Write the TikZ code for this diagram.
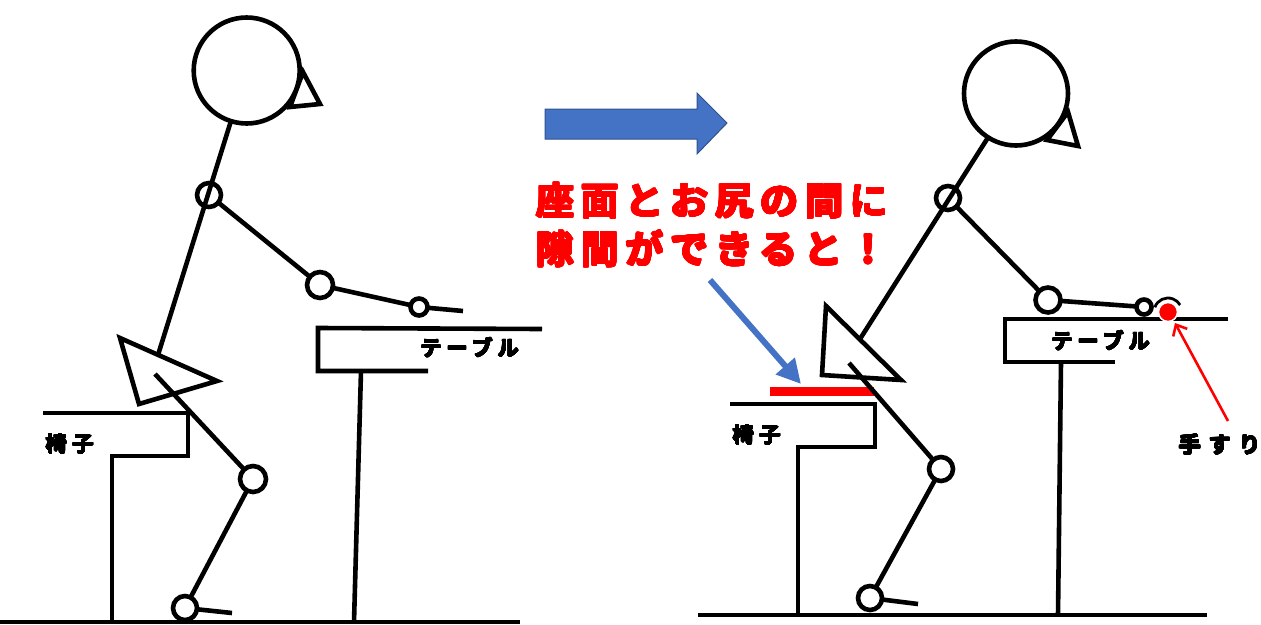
\documentclass[tikz,border=0pt]{standalone}
\usepackage{fontspec}
\usepackage[copies]{contour}
\newfontfamily\jplabel{Noto Sans CJK JP Bold}[LetterSpace=25]
\newfontfamily\jphead{Noto Sans CJK JP Bold}[LetterSpace=18]
\newfontfamily\jphand{Noto Sans CJK JP Bold}[LetterSpace=35]
\usetikzlibrary{arrows.meta}
\definecolor{arrowblue}{HTML}{4472C4}
\definecolor{arrowedge}{HTML}{2F528F}
\definecolor{warnred}{HTML}{FF0000}
% heavier strokes for the lettering
\newcommand{\heavytext}[3]{\contourlength{#1}\contour[24]{#2}{#3}}

\begin{document}
\begin{tikzpicture}[x=1pt,y=-1pt,
  stick/.style={line width=4.6pt},
  joint/.style={circle, draw, line width=4.6pt, fill=white, inner sep=0pt, outer sep=0pt},
  hollowjoint/.style={circle, draw, line width=4.6pt, inner sep=0pt, outer sep=0pt},
  furniture/.style={line width=4.6pt},
  floorline/.style={line width=4pt},
  objlabel/.style={font=\jplabel\fontsize{21}{24}\selectfont, inner sep=0pt},
  handlabel/.style={font=\jphand\fontsize{22}{26}\selectfont, inner sep=0pt},
  warning/.style={font=\jphead\fontsize{38}{44}\selectfont, text=warnred, inner sep=0pt},
  pointer/.style={line width=6pt, draw=arrowblue, -{Triangle[length=24pt,width=24pt]}},
  gapbar/.style={line width=9pt, draw=warnred},
  railpointer/.style={line width=2.6pt, draw=warnred, -{Straight Barb[length=9pt,width=16pt]}}
]
\useasboundingbox (0,0) rectangle (1261,624);

% ---------- left scene: seated posture ----------
% floor
\coordinate (lfloorA) at (0,622);
\coordinate (lfloorB) at (520,622);
\draw[floorline] (lfloorA) -- (lfloorB);

% chair
\draw[furniture] (43,413) -- (188,413) -- (188,456) -- (112,456) -- (112,622);
\node[objlabel] (lchairtxt) at (70,444) {\heavytext{0.5pt}{black}{椅子}};

% table
\draw[furniture] (542,329) -- (318,328) -- (318,371) -- (428,371);
\draw[furniture] (361,371) -- (354,622);
\node[objlabel] (ltabletxt) at (470,348) {\heavytext{0.5pt}{black}{テーブル}};

% head with nose
\draw[stick] (303,72) -- (320,104) -- (290,107) -- cycle;
\node[joint, minimum size=106pt] (lhead) at (246.7,70.5) {};

% trunk
\coordinate (lhip) at (158,355);
\draw[stick] (lhead) -- (lhip);

% arm
\node[hollowjoint, minimum size=24pt] (lsho) at (209,195) {};
\node[joint, minimum size=26pt] (lelb) at (320,285) {};
\node[joint, minimum size=17pt] (lwri) at (419,307) {};
\coordinate (lhand) at (463,311);
\draw[stick] (lsho) -- (lelb);
\draw[stick] (lelb) -- (lwri);
\draw[stick] (lwri) -- (lhand);

% pelvis and leg
\draw[stick] (120,338) -- (217,381) -- (139,404) -- cycle;
\coordinate (lthigh) at (155,374);
\node[joint, minimum size=26pt] (lknee) at (253,479) {};
\node[joint, minimum size=24pt] (lank) at (185,608) {};
\coordinate (ltoe) at (232,613);
\draw[stick] (lthigh) -- (lknee);
\draw[stick] (lknee) -- (lank);
\draw[stick] (lank) -- (ltoe);

% ---------- transition arrow ----------
\fill[arrowblue, draw=arrowedge, line width=1pt]
  (545,109) -- (697,109) -- (697,93) -- (727,123) -- (697,154) -- (697,139) -- (545,139) -- cycle;

% ---------- message ----------
\node[warning, anchor=west] (msg1) at (536,201) {\heavytext{0.9pt}{warnred}{座面とお尻の間に}};
\node[warning, anchor=west] (msg2) at (536,249) {\heavytext{0.9pt}{warnred}{隙間ができると！}};

% ---------- right scene: hips lifted ----------
% floor
\coordinate (rfloorA) at (698,615);
\coordinate (rfloorB) at (1207,615);
\draw[floorline] (rfloorA) -- (rfloorB);

% chair
\draw[furniture] (730,404) -- (875,404) -- (875,447) -- (798,447) -- (798,615);
\node[objlabel] (rchairtxt) at (757,435) {\heavytext{0.5pt}{black}{椅子}};

% gap between seat and hips
\coordinate (gapA) at (770,391);
\coordinate (gapB) at (874,391);
\draw[gapbar] (gapA) -- (gapB);
\coordinate (ptrstart) at (710,280);
\coordinate (ptrend) at (801,384);
\draw[pointer] (ptrstart) -- (ptrend);

% table
\draw[furniture] (1228,319) -- (1005,319) -- (1005,362) -- (1115,362);
\draw[furniture] (1061,362) -- (1058,615);
\node[objlabel] (rtabletxt) at (1101,341) {\heavytext{0.5pt}{black}{テーブル}};

% head with nose
\draw[stick] (1068,112) -- (1078,146) -- (1047,140) -- cycle;
\node[joint, minimum size=104pt] (rhead) at (1016,93.5) {};

% trunk
\coordinate (rhip) at (860,339);
\draw[stick] (rhead) -- (rhip);

% arm
\node[hollowjoint, minimum size=24pt] (rsho) at (948,198) {};
\node[joint, minimum size=25pt] (relb) at (1048,300) {};
\node[joint, minimum size=15pt] (rwri) at (1144,307) {};
\draw[stick] (rsho) -- (relb);
\draw[stick] (relb) -- (rwri);

% hand gripping the rail
\node[circle, fill=warnred, draw=white, line width=1.5pt, minimum size=19pt, inner sep=0pt] (rail) at (1168,312) {};
\draw[line width=2.8pt] (rail.center) ++(-160:14) arc[start angle=-160, end angle=-30, radius=14];

% pelvis and leg
\draw[stick] (826,306) -- (901,380) -- (822,375) -- cycle;
\coordinate (rthigh) at (849,363);
\node[joint, minimum size=24pt] (rknee) at (941,469) {};
\node[joint, minimum size=24pt] (rank) at (870,598) {};
\coordinate (rtoe) at (918,604);
\draw[stick] (rthigh) -- (rknee);
\draw[stick] (rknee) -- (rank);
\draw[stick] (rank) -- (rtoe);

% handrail callout
\node[handlabel] (railtxt) at (1220,445) {\heavytext{0.5pt}{black}{手すり}};
\coordinate (railptr) at (1228,421);
\coordinate (railtip) at (1175,323);
\draw[railpointer] (railptr) -- (railtip);
\end{tikzpicture}
\end{document}
